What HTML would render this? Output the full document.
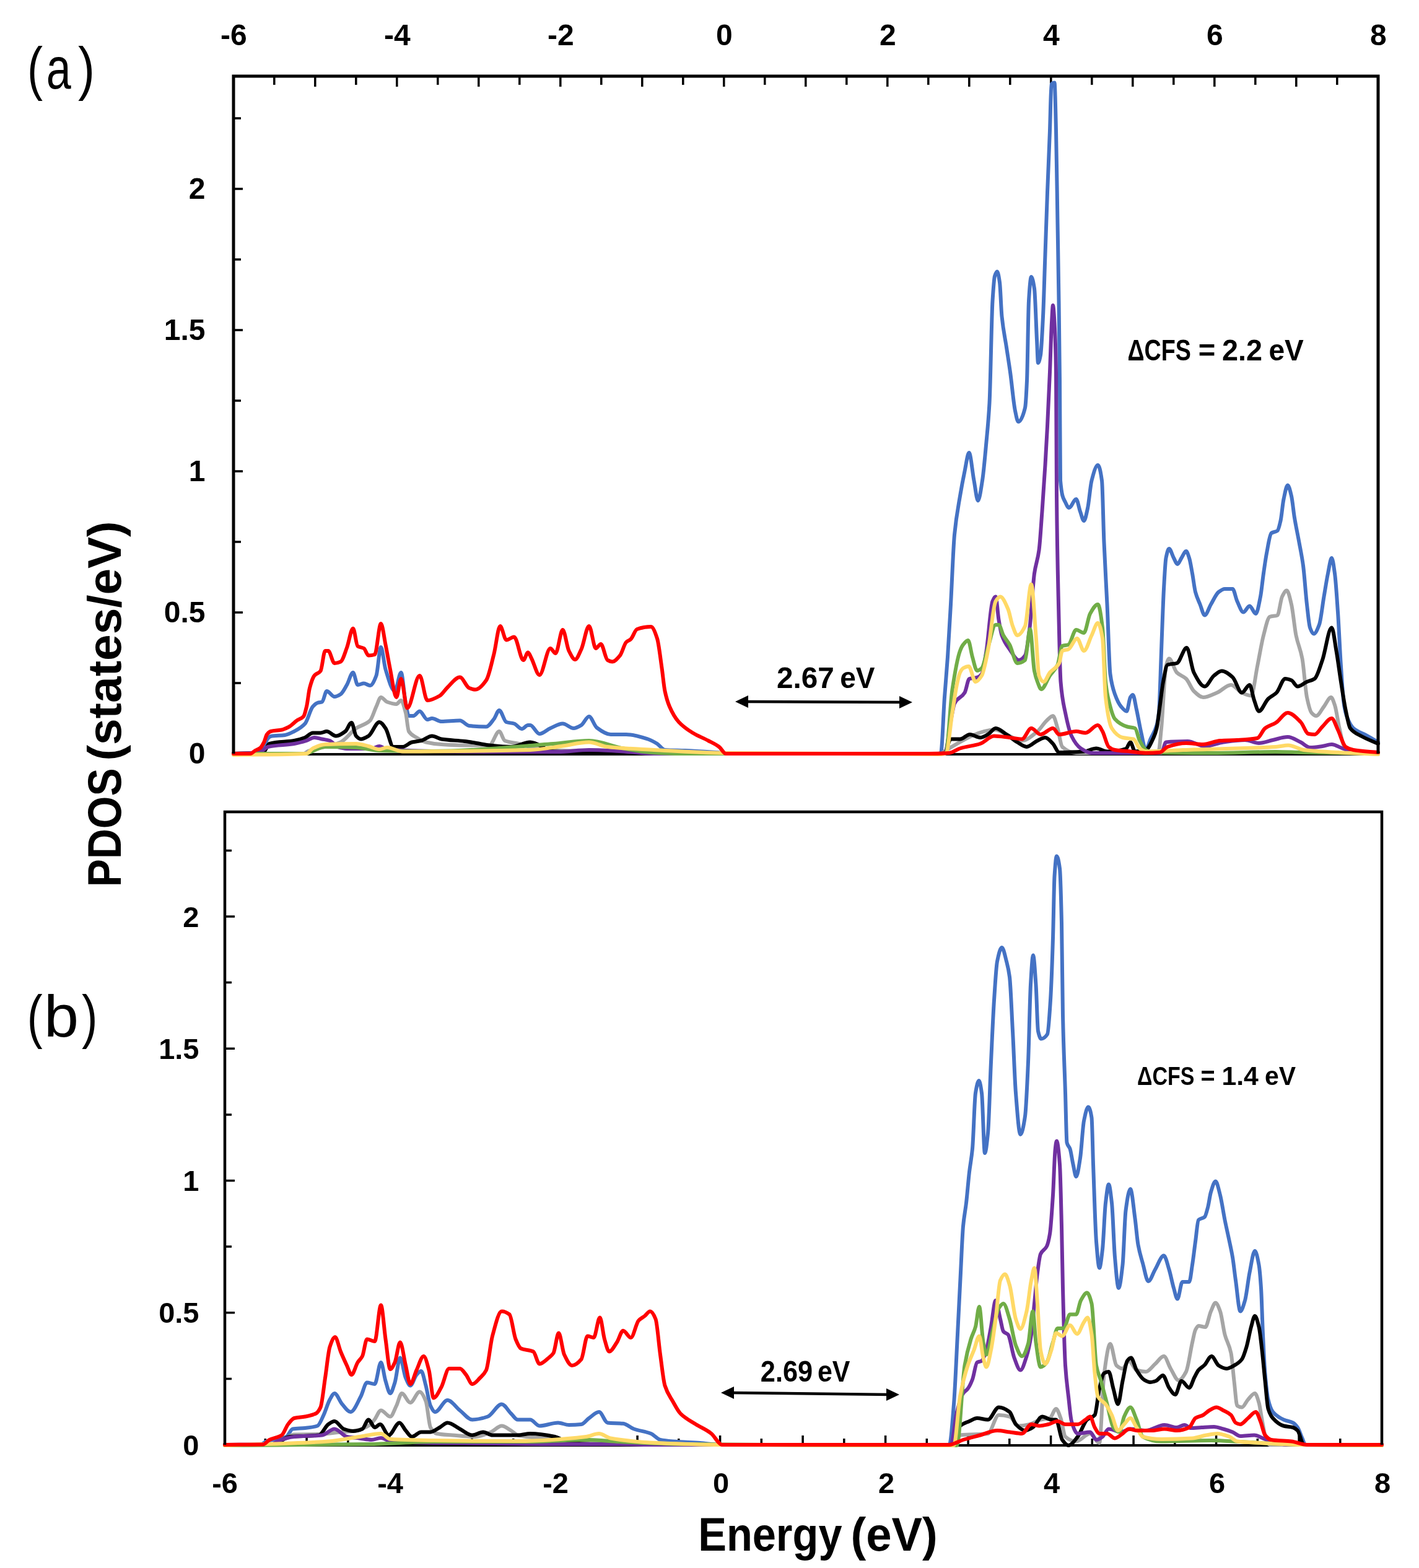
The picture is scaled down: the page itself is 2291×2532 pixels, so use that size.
<!DOCTYPE html>
<html><head><meta charset="utf-8"><title>PDOS</title>
<style>
html,body{margin:0;padding:0;background:#fff;}
svg{display:block;}
text{font-family:"Liberation Sans",Arial,sans-serif;fill:#000;}
.b{font-weight:bold;}
</style></head><body>
<svg width="2291" height="2532" viewBox="0 0 2291 2532">
<rect width="2291" height="2532" fill="#fff"/>
<path d="M442.8 123V137M508.8 123V140M574.8 123V137M640.8 123V140M706.8 123V137M772.8 123V140M838.8 123V137M904.8 123V140M970.8 123V137M1036.8 123V140M1102.8 123V137M1168.8 123V140M1234.8 123V137M1300.8 123V140M1366.8 123V137M1432.8 123V140M1498.8 123V137M1564.8 123V140M1630.8 123V137M1696.8 123V140M1762.8 123V137M1828.8 123V140M1894.8 123V137M1960.8 123V140M2026.8 123V137M2092.8 123V140M2158.8 123V137M377 1103H389M377 989H392M377 875H389M377 761H392M377 647H389M377 533H392M377 419H389M377 305H392M377 191H389" stroke="#000" stroke-width="3.5" fill="none"/>
<path d="M377 1218H2225" stroke="#000" stroke-width="4" fill="none"/>
<g fill="none" stroke-width="6" stroke-linejoin="round" stroke-linecap="round" transform="translate(0 1)">
<path stroke="#4472C4" d="M377 1216C389.7 1216 402.3 1216 415 1216C418.3 1216 421.7 1212.1 425 1208C427.3 1205.2 429.7 1194.7 432 1192C433.7 1190.1 435.3 1188.3 437 1188C444.7 1186.5 452.3 1187.1 460 1186C465 1185.3 470 1182.5 475 1180C480.8 1177 486.7 1174 492.5 1167.5C496.7 1162.9 500.8 1144.7 505 1140C507.5 1137.2 510 1134.8 512.5 1134C515 1133.2 517.5 1133.4 520 1132.5C522.5 1131.6 525 1115 527.5 1115C531.7 1115 535.8 1124 540 1124C543.3 1124 546.7 1122.1 550 1120C553.3 1117.9 556.7 1110.7 560 1105C563.3 1099.3 566.7 1085 570 1085C572.5 1085 575 1105 577.5 1105C580.8 1105 584.2 1102.5 587.5 1102.5C590.8 1102.5 594.2 1106 597.5 1106C600.8 1106 604.2 1098.7 607.5 1090C610 1083.5 612.5 1044 615 1044C617.5 1044 620 1071.8 622.5 1080C627.5 1096.3 632.5 1115 637.5 1115C640.8 1115 644.2 1085 647.5 1085C650 1085 652.5 1122.7 655 1135C656.7 1143.2 658.3 1155 660 1155C662.5 1155 665 1155 667.5 1155C670.8 1155 674.2 1147.5 677.5 1147.5C681.7 1147.5 685.8 1161 690 1161C692.5 1161 695 1159 697.5 1159C702.5 1159 707.5 1164 712.5 1164C722.5 1164 732.5 1162.5 742.5 1162.5C747.5 1162.5 752.5 1170.5 757.5 1171C766.7 1172 775.8 1172.5 785 1172.5C789.2 1172.5 793.3 1165.3 797.5 1160C800.3 1156.4 803.2 1146 806 1146C809.8 1146 813.7 1163.6 817.5 1165C821.7 1166.5 825.8 1166.2 830 1167.5C834.2 1168.8 838.3 1176 842.5 1176C845.8 1176 849.2 1170 852.5 1170C853.7 1170 854.8 1170 856 1170C861 1170 866 1184 871 1184C876.8 1184 882.7 1177.5 888.5 1175C895.2 1172.1 901.8 1167.5 908.5 1167.5C914.3 1167.5 920.2 1175 926 1175C930.2 1175 934.3 1172.5 938.5 1170C942.7 1167.5 946.8 1156 951 1156C955.2 1156 959.3 1170.8 963.5 1174C971 1179.7 978.5 1185 986 1185C994.3 1185 1002.7 1185 1011 1185C1022.7 1185 1034.3 1188.8 1046 1192.5C1051 1194.1 1056 1196.9 1061 1200C1065.2 1202.6 1069.3 1209.7 1073.5 1210C1084.3 1210.7 1095.2 1210.6 1106 1211C1122.7 1211.7 1139.3 1212.8 1156 1214C1164 1214.6 1172 1216 1180 1216C1291.7 1216 1403.3 1216 1515 1216C1516.3 1216 1517.7 1215.6 1519 1215C1521 1214.1 1523 1152.8 1525 1125C1526.7 1101.8 1528.3 1084.6 1530 1060C1531.7 1035.4 1533.3 1004.7 1535 975C1537 939.4 1539 883.4 1541 862.5C1544 831.1 1547 818 1550 800C1552.5 785 1555 771.9 1557.5 760C1559.8 748.9 1562.2 730 1564.5 730C1567.2 730 1569.8 760.9 1572.5 775C1574.7 786.4 1576.8 807.5 1579 807.5C1581.3 807.5 1583.7 789.7 1586 775C1588.2 761.4 1590.3 736.2 1592.5 712.5C1594.2 694.3 1595.8 680.2 1597.5 650C1599.2 619.8 1600.8 512.5 1602.5 485C1603.7 465.7 1604.8 448.8 1606 445C1607.3 440.6 1608.7 437.5 1610 437.5C1611.3 437.5 1612.7 445.8 1614 455C1615.2 463.1 1616.3 498.5 1617.5 510C1620 534.6 1622.5 543.3 1625 560C1627 573.3 1629 585.7 1631 600C1633.7 619.1 1636.3 650 1639 662.5C1640.7 670.3 1642.3 680 1644 680C1647.7 680 1651.3 672.8 1655 657.5C1656 653.3 1657 635.7 1658 614C1659 592.3 1660 501.4 1661 485C1662.3 463.1 1663.7 446 1665 446C1666.7 446 1668.3 454 1670 465C1671.3 473.8 1672.7 521.4 1674 547.5C1674.7 560.5 1675.3 585 1676 585C1677.3 585 1678.7 579.4 1680 572.5C1681.3 565.6 1682.7 537.1 1684 510C1685.2 486.3 1686.3 443.3 1687.5 410C1688.7 376.7 1689.8 341.2 1691 310C1692.3 274.4 1693.7 246.6 1695 210C1695.8 187.1 1696.7 135.9 1697.5 135C1699.2 133.2 1700.8 132.5 1702.5 132.5C1703.3 132.5 1704.2 175.9 1705 210C1705.8 244.1 1706.7 308.9 1707.5 360C1708.2 400.8 1708.8 436.4 1709.5 485C1710 521.5 1710.5 556.8 1711 614C1711.3 652.1 1711.7 771.2 1712 775C1714.7 805.1 1717.3 804.2 1720 810C1722 814.4 1724 819 1726 819C1729.8 819 1733.7 805 1737.5 805C1739.7 805 1741.8 819 1744 825C1746 830.5 1748 840 1750 840C1752 840 1754 829 1756 820C1758.2 810.3 1760.3 783.2 1762.5 775C1765.8 762.3 1769.2 750 1772.5 750C1774.7 750 1776.8 759.1 1779 775C1780.2 783.6 1781.3 847.3 1782.5 875C1784.2 914.6 1785.8 939.7 1787.5 975C1789.2 1010.3 1790.8 1074.8 1792.5 1087.5C1795 1106.5 1797.5 1113 1800 1120C1803.3 1129.3 1806.7 1136.1 1810 1140C1813 1143.5 1816 1147.5 1819 1147.5C1821 1147.5 1823 1128 1825 1125C1826.3 1123 1827.7 1121 1829 1121C1831 1121 1833 1136.1 1835 1145C1837.5 1156.1 1840 1171.9 1842.5 1182.5C1845 1193.1 1847.5 1210 1850 1210C1852.5 1210 1855 1198.2 1857.5 1192.5C1860.8 1184.9 1864.2 1181.6 1867.5 1170C1868.7 1166 1869.8 1160.7 1871 1150C1872.3 1137.8 1873.7 1083.3 1875 1050C1876.3 1016.7 1877.7 974.1 1879 950C1880.2 928.9 1881.3 906 1882.5 900C1884.2 891.4 1885.8 885 1887.5 885C1890 885 1892.5 895.5 1895 900C1897 903.6 1899 910 1901 910C1903.2 910 1905.3 903.3 1907.5 900C1910 896.2 1912.5 889 1915 889C1916.7 889 1918.3 894.9 1920 900C1921.7 905.1 1923.3 915.9 1925 925C1926.7 934.1 1928.3 948.7 1930 955C1932.5 964.5 1935 968.8 1937.5 975C1940 981.2 1942.5 992.5 1945 992.5C1948.3 992.5 1951.7 980.6 1955 975C1959.2 968 1963.3 958.1 1967.5 955C1970.8 952.5 1974.2 950 1977.5 950C1981.7 950 1985.8 950 1990 950C1992.5 950 1995 964.7 1997.5 970C2000.8 977.1 2004.2 987.5 2007.5 987.5C2010.8 987.5 2014.2 977.5 2017.5 977.5C2020.8 977.5 2024.2 990 2027.5 990C2030 990 2032.5 975.1 2035 962.5C2036.7 954.1 2038.3 936.6 2040 925C2041.7 913.4 2043.3 901.3 2045 892.5C2047.5 879.3 2050 861.9 2052.5 860C2055.8 857.5 2059.2 858.6 2062.5 856C2064.2 854.7 2065.8 847.3 2067.5 840C2069.2 832.7 2070.8 812.8 2072.5 805C2074.7 794.8 2076.8 782.5 2079 782.5C2081 782.5 2083 791.7 2085 800C2086.7 806.9 2088.3 824.8 2090 835C2092.5 850.3 2095 861.1 2097.5 875C2099.7 887 2101.8 896.3 2104 912.5C2106 927.4 2108 957.6 2110 975C2111.7 989.5 2113.3 1007.9 2115 1012.5C2117 1018.1 2119 1022.5 2121 1022.5C2124 1022.5 2127 1015.5 2130 1007.5C2132.5 1000.9 2135 977.2 2137.5 962.5C2139.7 949.8 2141.8 935.5 2144 925C2146 915.3 2148 900 2150 900C2151.7 900 2153.3 913.1 2155 925C2156.7 936.9 2158.3 963.2 2160 987.5C2161.7 1011.8 2163.3 1050.7 2165 1075C2166.7 1099.3 2168.3 1127.4 2170 1137.5C2171.7 1147.6 2173.3 1153.3 2175 1157.5C2178.3 1166 2181.7 1172 2185 1175C2191.7 1180.9 2198.3 1182.3 2205 1186C2211.7 1189.7 2218.3 1193.7 2225 1197.5"/>
<path stroke="#A5A5A5" d="M377 1216C414.7 1216 452.3 1216 490 1216C492.5 1216 495 1213 497.5 1212C515 1205.1 532.5 1205.4 550 1197.5C558.3 1193.7 566.7 1180.7 575 1175C582.5 1169.9 590 1169.7 597.5 1162.5C600.8 1159.3 604.2 1147 607.5 1140C610 1134.7 612.5 1125 615 1125C618.3 1125 621.7 1131.3 625 1132.5C630 1134.3 635 1136 640 1136C642.5 1136 645 1130 647.5 1130C650 1130 652.5 1140.5 655 1150C656.7 1156.3 658.3 1177.4 660 1180C664.2 1186.6 668.3 1187.4 672.5 1190C677.5 1193.1 682.5 1196.4 687.5 1197.5C695.8 1199.4 704.2 1200.5 712.5 1201C725 1201.8 737.5 1202.5 750 1202.5C763.3 1202.5 776.7 1202.5 790 1202.5C795.3 1202.5 800.7 1180 806 1180C809 1180 812 1193.7 815 1195C822.5 1198.3 830 1198.2 837.5 1200C843.7 1201.5 849.8 1203.5 856 1205C864 1206.9 872 1209.5 880 1210C903.3 1211.3 926.7 1211.4 950 1212C983.3 1212.8 1016.7 1213.3 1050 1214C1083.3 1214.7 1116.7 1216 1150 1216C1273.3 1216 1396.7 1216 1520 1216C1521.7 1216 1523.3 1213 1525 1212C1552.5 1195.4 1580 1177.5 1607.5 1177.5C1613.3 1177.5 1619.2 1182.6 1625 1185C1633.3 1188.5 1641.7 1195 1650 1195C1658.3 1195 1666.7 1186.8 1675 1180C1680 1175.9 1685 1167 1690 1162.5C1693.3 1159.5 1696.7 1155 1700 1155C1702.5 1155 1705 1167 1707.5 1175C1710 1183 1712.5 1202.7 1715 1205C1722.5 1211.9 1730 1215 1737.5 1215C1781.7 1215 1825.8 1215 1870 1215C1871.7 1215 1873.3 1191.4 1875 1175C1877.5 1150.4 1880 1085.1 1882.5 1075C1884.2 1068.3 1885.8 1062.5 1887.5 1062.5C1891.7 1062.5 1895.8 1080.9 1900 1085C1905 1089.9 1910 1090.2 1915 1095C1919.2 1099 1923.3 1111 1927.5 1115C1932.5 1119.8 1937.5 1125 1942.5 1125C1950 1125 1957.5 1120.6 1965 1117.5C1972.5 1114.4 1980 1105 1987.5 1105C1993.3 1105 1999.2 1114.9 2005 1117.5C2010 1119.8 2015 1122.5 2020 1122.5C2023.3 1122.5 2026.7 1091.2 2030 1075C2033.3 1058.8 2036.7 1037.5 2040 1025C2043.3 1012.5 2046.7 996.3 2050 995C2054.2 993.4 2058.3 994.2 2062.5 992.5C2065 991.5 2067.5 967.5 2070 962.5C2072.5 957.5 2075 952.5 2077.5 952.5C2080 952.5 2082.5 964.7 2085 975C2087.5 985.3 2090 1012.8 2092.5 1025C2095.8 1041.2 2099.2 1044.9 2102.5 1062.5C2105 1075.7 2107.5 1113.1 2110 1125C2112.5 1136.9 2115 1147.2 2117.5 1150C2120 1152.8 2122.5 1155 2125 1155C2129.2 1155 2133.3 1145.2 2137.5 1140C2141.3 1135.2 2145.2 1125 2149 1125C2151 1125 2153 1131.7 2155 1137.5C2157.5 1144.7 2160 1164.1 2162.5 1175C2165 1185.9 2167.5 1199.9 2170 1204C2173.3 1209.4 2176.7 1213.6 2180 1214C2195 1215.6 2210 1215.3 2225 1216"/>
<path stroke="#000000" d="M377 1216C393 1215.3 409 1215.6 425 1214C428.3 1213.7 431.7 1200.9 435 1200C448.3 1196.3 461.7 1197.4 475 1195C480.8 1193.9 486.7 1192.3 492.5 1190C496.7 1188.4 500.8 1182.5 505 1182.5C509.2 1182.5 513.3 1182.5 517.5 1182.5C520.8 1182.5 524.2 1180 527.5 1180C532.5 1180 537.5 1187.5 542.5 1187.5C547.5 1187.5 552.5 1183.8 557.5 1180C560.8 1177.5 564.2 1166 567.5 1166C570 1166 572.5 1184.8 575 1187.5C577.5 1190.2 580 1192.5 582.5 1192.5C586.7 1192.5 590.8 1190 595 1187.5C600.8 1184 606.7 1165 612.5 1165C615.8 1165 619.2 1170.4 622.5 1175C626.7 1180.8 630.8 1205 635 1205C640 1205 645 1205 650 1205C655 1205 660 1198.8 665 1197.5C670 1196.2 675 1196.2 680 1195C685.8 1193.6 691.7 1187.5 697.5 1187.5C702.5 1187.5 707.5 1191.7 712.5 1192.5C725 1194.5 737.5 1194.5 750 1196C758.3 1197 766.7 1198.6 775 1200C780 1200.8 785 1202 790 1202.5C801.7 1203.7 813.3 1205 825 1205C835.3 1205 845.7 1197.5 856 1197.5C862.7 1197.5 869.3 1201.6 876 1205C879.3 1206.7 882.7 1211.7 886 1212C907.3 1213.6 928.7 1213.6 950 1214C1000 1215 1050 1216 1100 1216C1240 1216 1380 1216 1520 1216C1521.7 1216 1523.3 1215.6 1525 1215C1528.3 1213.9 1531.7 1192.5 1535 1192.5C1540 1192.5 1545 1192.5 1550 1192.5C1555.3 1192.5 1560.7 1185 1566 1185C1571.5 1185 1577 1190 1582.5 1190C1586.7 1190 1590.8 1187.2 1595 1185C1599.2 1182.8 1603.3 1175 1607.5 1175C1613.3 1175 1619.2 1181.3 1625 1185C1630.8 1188.7 1636.7 1194.1 1642.5 1197.5C1647.5 1200.4 1652.5 1205 1657.5 1205C1663.3 1205 1669.2 1197.7 1675 1195C1679.2 1193.1 1683.3 1190 1687.5 1190C1691.7 1190 1695.8 1195.7 1700 1200C1703.3 1203.4 1706.7 1214 1710 1214C1723.3 1214 1736.7 1213.4 1750 1212.5C1756.7 1212 1763.3 1207.5 1770 1207.5C1775.8 1207.5 1781.7 1212.5 1787.5 1212.5C1797.7 1212.5 1807.8 1211.3 1818 1208C1820.3 1207.2 1822.7 1197.5 1825 1197.5C1827.5 1197.5 1830 1212.5 1832.5 1212.5C1838.3 1212.5 1844.2 1211.6 1850 1210C1854.2 1208.9 1858.3 1199.1 1862.5 1190C1864.2 1186.4 1865.8 1182 1867.5 1175C1869.2 1168 1870.8 1151.9 1872.5 1140C1874.3 1126.9 1876.2 1109.5 1878 1100C1880.3 1088 1882.7 1073.3 1885 1072.5C1890 1070.7 1895 1071.5 1900 1070C1905.3 1068.4 1910.7 1045 1916 1045C1919.8 1045 1923.7 1077.6 1927.5 1085C1933.3 1096.3 1939.2 1107.5 1945 1107.5C1950 1107.5 1955 1093.9 1960 1090C1964.2 1086.7 1968.3 1082.5 1972.5 1082.5C1978.3 1082.5 1984.2 1087.5 1990 1092.5C1995 1096.8 2000 1117.5 2005 1117.5C2009.2 1117.5 2013.3 1105 2017.5 1105C2020 1105 2022.5 1123.1 2025 1130C2027.5 1136.9 2030 1147.5 2032.5 1147.5C2037.5 1147.5 2042.5 1132.2 2047.5 1127.5C2052 1123.2 2056.5 1122.1 2061 1117.5C2065.7 1112.8 2070.3 1095 2075 1095C2078.3 1095 2081.7 1096.2 2085 1097.5C2088.3 1098.8 2091.7 1107.5 2095 1107.5C2100 1107.5 2105 1102.2 2110 1100C2114.2 1098.2 2118.3 1097.9 2122.5 1095C2126.7 1092.1 2130.8 1076.8 2135 1065C2140 1050.8 2145 1012.5 2150 1012.5C2152.5 1012.5 2155 1035.7 2157.5 1050C2160 1064.3 2162.5 1084.2 2165 1100C2167.5 1115.8 2170 1133 2172.5 1145C2175 1157 2177.5 1171.7 2180 1175C2185.8 1182.8 2191.7 1184.2 2197.5 1187.5C2206.7 1192.7 2215.8 1195.8 2225 1200"/>
<path stroke="#7030A0" d="M377 1216C391.3 1215.3 405.7 1215.6 420 1214C421.7 1213.8 423.3 1211.2 425 1210C427.5 1208.2 430 1205.6 432.5 1205C446.7 1201.6 460.8 1202.4 475 1200C481.7 1198.9 488.3 1197.1 495 1195C499.2 1193.7 503.3 1190 507.5 1190C511.7 1190 515.8 1191.7 520 1192.5C524.2 1193.3 528.3 1193.7 532.5 1195C536.7 1196.3 540.8 1203.6 545 1205C550 1206.6 555 1208 560 1208C573.3 1208 586.7 1208 600 1208C604.2 1208 608.3 1204 612.5 1204C616.7 1204 620.8 1208.6 625 1209C650 1211.3 675 1211.6 700 1212C733.3 1212.5 766.7 1213 800 1213C833.3 1213 866.7 1213 900 1213C917 1213 934 1210 951 1210C967.3 1210 983.7 1211.2 1000 1212C1018.7 1213 1037.3 1216 1056 1216C1210.7 1216 1365.3 1216 1520 1216C1521.7 1216 1523.3 1215.6 1525 1215C1529.2 1213.6 1533.3 1169.2 1537.5 1150C1538.7 1144.6 1539.8 1137.3 1541 1135C1546.5 1124.2 1552 1126.7 1557.5 1117.5C1560 1113.3 1562.5 1095.8 1565 1095C1569.2 1093.6 1573.3 1094.2 1577.5 1093C1580 1092.3 1582.5 1090.7 1585 1087.5C1587.5 1084.3 1590 1065.2 1592.5 1050C1595.8 1029.7 1599.2 977.8 1602.5 970C1604.2 966.1 1605.8 962.5 1607.5 962.5C1609.2 962.5 1610.8 990 1612.5 1000C1614.2 1010 1615.8 1020.3 1617.5 1025C1621.7 1036.8 1625.8 1041.6 1630 1047.5C1635 1054.6 1640 1065 1645 1065C1648.3 1065 1651.7 1062.1 1655 1057.5C1657.5 1054 1660 1032.3 1662.5 1012.5C1665 992.7 1667.5 942.5 1670 925C1672.5 907.5 1675 905.9 1677.5 887.5C1679.2 875.2 1680.8 847.7 1682.5 825C1684.2 802.3 1685.8 777.3 1687.5 750C1688.7 730.9 1689.8 710.4 1691 687.5C1692.3 661.3 1693.7 632.2 1695 600C1696 575.9 1697 538 1698 520C1698.7 508 1699.3 492 1700 492C1700.8 492 1701.7 506.2 1702.5 520C1703.3 533.8 1704.2 548.7 1705 600C1705.3 620.5 1705.7 766.9 1706 800C1707 899.4 1708 930.4 1709 975C1710.2 1027 1711.3 1085.7 1712.5 1100C1715 1130.6 1717.5 1137.8 1720 1150C1723.3 1166.2 1726.7 1180.7 1730 1187.5C1735 1197.7 1740 1204.2 1745 1207.5C1750.8 1211.3 1756.7 1215 1762.5 1215C1800 1215 1837.5 1215 1875 1215C1877.5 1215 1880 1197.8 1882.5 1197.5C1894.2 1196.3 1905.8 1196 1917.5 1196C1926.7 1196 1935.8 1204 1945 1204C1955 1204 1965 1198.9 1975 1197.5C1986.7 1195.9 1998.3 1194 2010 1194C2017.5 1194 2025 1199 2032.5 1199C2040 1199 2047.5 1195.6 2055 1194C2063 1192.3 2071 1189 2079 1189C2086 1189 2093 1194.2 2100 1197.5C2105 1199.9 2110 1206 2115 1206C2121.7 1206 2128.3 1204.9 2135 1204C2140 1203.3 2145 1201 2150 1201C2155.8 1201 2161.7 1205.6 2167.5 1207.5C2173.3 1209.4 2179.2 1211.8 2185 1212.5C2198.3 1214 2211.7 1214.2 2225 1215"/>
<path stroke="#70AD47" d="M377 1216C416.3 1216 455.7 1216 495 1216C496.7 1216 498.3 1214.6 500 1214C508.3 1210.8 516.7 1205 525 1205C541.7 1205 558.3 1205.4 575 1206C587.5 1206.5 600 1210.7 612.5 1211C641.7 1211.7 670.8 1212 700 1212C764.5 1212 829 1204.8 893.5 1200C912.7 1198.6 931.8 1195 951 1195C969.3 1195 987.7 1204.2 1006 1207.5C1020.7 1210.1 1035.3 1213.1 1050 1214C1066.7 1215.1 1083.3 1216 1100 1216C1240 1216 1380 1216 1520 1216C1522.3 1216 1524.7 1215.6 1527 1215C1530.5 1214.1 1534 1135.9 1537.5 1112.5C1541.7 1084.7 1545.8 1061.2 1550 1050C1551.7 1045.5 1553.3 1042.1 1555 1040C1557.7 1036.7 1560.3 1033 1563 1033C1565.3 1033 1567.7 1052.2 1570 1060C1572.5 1068.3 1575 1082 1577.5 1082C1580 1082 1582.5 1080.2 1585 1078C1588.3 1075 1591.7 1055.4 1595 1045C1599.2 1032 1603.3 1008 1607.5 1008C1609.2 1008 1610.8 1008 1612.5 1008C1615 1008 1617.5 1020.4 1620 1025C1623.3 1031.1 1626.7 1033.9 1630 1040C1634.2 1047.6 1638.3 1070 1642.5 1070C1646.7 1070 1650.8 1068.3 1655 1065C1657.7 1062.9 1660.3 1015 1663 1015C1665.3 1015 1667.7 1070.8 1670 1082.5C1671.7 1090.8 1673.3 1095.7 1675 1100C1677 1105.1 1679 1112 1681 1112C1685.7 1112 1690.3 1096.9 1695 1090C1699.2 1083.8 1703.3 1081.5 1707.5 1072.5C1710 1067.1 1712.5 1043 1715 1042C1718.3 1040.7 1721.7 1041.2 1725 1040C1729.2 1038.5 1733.3 1016 1737.5 1016C1741.7 1016 1745.8 1021 1750 1021C1753.3 1021 1756.7 995.9 1760 990C1764.2 982.7 1768.3 975 1772.5 975C1775 975 1777.5 992.3 1780 1012.5C1781.7 1026 1783.3 1085.1 1785 1100C1786.7 1114.9 1788.3 1123.1 1790 1130C1793.3 1143.8 1796.7 1156.3 1800 1160C1806.7 1167.4 1813.3 1170.6 1820 1172.5C1824.2 1173.7 1828.3 1173.3 1832.5 1175C1835 1176 1837.5 1190.1 1840 1195C1843.3 1201.5 1846.7 1207.9 1850 1210C1853.3 1212.1 1856.7 1213.9 1860 1214C1892 1214.9 1924 1215 1956 1215C1990.7 1215 2025.3 1213 2060 1213C2073.3 1213 2086.7 1213.7 2100 1214C2141.7 1214.8 2183.3 1215.3 2225 1216"/>
<path stroke="#FFD966" d="M377 1218C416.3 1217.3 455.7 1217.8 495 1216C498.3 1215.8 501.7 1209.1 505 1207.5C511.7 1204.2 518.3 1201.3 525 1201C541.7 1200.3 558.3 1200 575 1200C581.7 1200 588.3 1202.4 595 1204C600.8 1205.4 606.7 1209 612.5 1209C616.7 1209 620.8 1206 625 1206C633.3 1206 641.7 1212.5 650 1212.5C718.7 1212.5 787.3 1211.8 856 1210C872.7 1209.6 889.3 1206.2 906 1204C921 1202 936 1197.5 951 1197.5C961 1197.5 971 1203.9 981 1205C1006 1207.9 1031 1208.6 1056 1210C1092.7 1212 1129.3 1214.6 1166 1215C1284 1216.4 1402 1217 1520 1217C1522.5 1217 1525 1216.2 1527.5 1215C1530.8 1213.4 1534.2 1171 1537.5 1150C1540 1134.2 1542.5 1115.6 1545 1104C1546.7 1096.3 1548.3 1088.4 1550 1085C1551.7 1081.6 1553.3 1079 1555 1078C1558 1076.3 1561 1075 1564 1075C1567.7 1075 1571.3 1100 1575 1100C1578.3 1100 1581.7 1095.3 1585 1090C1588.3 1084.7 1591.7 1066.3 1595 1050C1599.2 1029.7 1603.3 976.8 1607.5 970C1610 965.9 1612.5 962.5 1615 962.5C1619.2 962.5 1623.3 972.9 1627.5 982.5C1630 988.3 1632.5 1003.5 1635 1010C1637.5 1016.5 1640 1025 1642.5 1025C1646.7 1025 1650.8 1018.7 1655 1010C1658.3 1003 1661.7 942.5 1665 942.5C1667.5 942.5 1670 995 1672.5 1025C1674.2 1045 1675.8 1085.7 1677.5 1090C1680 1096.4 1682.5 1100 1685 1100C1688.3 1100 1691.7 1089.1 1695 1085C1700 1078.9 1705 1078.9 1710 1070C1711.7 1067 1713.3 1050.9 1715 1050C1718.3 1048.3 1721.7 1048.8 1725 1047.5C1729.7 1045.6 1734.3 1030 1739 1030C1742.7 1030 1746.3 1050 1750 1050C1754.2 1050 1758.3 1033.3 1762.5 1025C1765.8 1018.3 1769.2 1005 1772.5 1005C1775 1005 1777.5 1015.1 1780 1030C1781.7 1039.9 1783.3 1110.9 1785 1125C1788.3 1153.2 1791.7 1169.8 1795 1175C1800.8 1184.1 1806.7 1188.6 1812.5 1190C1818.3 1191.4 1824.2 1190.9 1830 1192.5C1833.3 1193.4 1836.7 1205 1840 1207.5C1843.3 1210 1846.7 1212.5 1850 1212.5C1870 1212.5 1890 1210.8 1910 1210C1960 1208.1 2010 1208.1 2060 1205C2066.7 1204.6 2073.3 1202.5 2080 1202.5C2088.3 1202.5 2096.7 1209 2105 1210C2145 1214.6 2185 1214.7 2225 1217"/>
<path stroke="#FF0000" d="M377 1216C386 1216 395 1216 404 1216C406.7 1216 409.3 1212.5 412 1211C414.7 1209.5 417.3 1209 420 1207C422 1205.5 424 1201.8 426 1198C427.7 1194.8 429.3 1187.1 431 1185C433 1182.4 435 1180.5 437 1180C443 1178.4 449 1178.8 455 1177.5C458.7 1176.7 462.3 1174.9 466 1173C470.7 1170.5 475.3 1165.2 480 1162C483.3 1159.7 486.7 1159.6 490 1156C491.7 1154.2 493.3 1147 495 1140C496.7 1133 498.3 1116.3 500 1110C502.5 1100.5 505 1093 507.5 1090C510.8 1086 514.2 1086.9 517.5 1082.5C520 1079.2 522.5 1050 525 1050C526.7 1050 528.3 1050 530 1050C533.3 1050 536.7 1070 540 1070C543.3 1070 546.7 1069 550 1067.5C553.3 1066 556.7 1053.7 560 1045C563.3 1036.3 566.7 1013.8 570 1013.8C572.5 1013.8 575 1040.8 577.5 1042.5C580.8 1044.7 584.2 1044 587.5 1046C590 1047.5 592.5 1057.5 595 1057.5C598.3 1057.5 601.7 1057 605 1056C608.3 1055 611.7 1006 615 1006C617.5 1006 620 1027.7 622.5 1040C625 1052.3 627.5 1067.7 630 1080C633.3 1096.3 636.7 1125 640 1125C642.5 1125 645 1095 647.5 1095C650.8 1095 654.2 1142.5 657.5 1142.5C664.2 1142.5 670.8 1090 677.5 1090C681.7 1090 685.8 1130 690 1130C696.7 1130 703.3 1126.4 710 1122.5C714.2 1120.1 718.3 1112.9 722.5 1109C729.2 1102.7 735.8 1092.5 742.5 1092.5C747.5 1092.5 752.5 1108 757.5 1110C760.8 1111.3 764.2 1112.5 767.5 1112.5C773.3 1112.5 779.2 1105.8 785 1097.5C789.2 1091.6 793.3 1071.2 797.5 1055C800.8 1042 804.2 1010 807.5 1010C810.8 1010 814.2 1032.5 817.5 1032.5C821.7 1032.5 825.8 1027.5 830 1027.5C835 1027.5 840 1065 845 1065C847.5 1065 850 1052.5 852.5 1052.5C854.3 1052.5 856.2 1058.6 858 1062C862.3 1070.1 866.7 1089 871 1089C876.8 1089 882.7 1046 888.5 1046C891.3 1046 894.2 1054 897 1054C900.8 1054 904.7 1016 908.5 1016C911.8 1016 915.2 1043.4 918.5 1050C921.8 1056.6 925.2 1064 928.5 1064C931.8 1064 935.2 1054.5 938.5 1047.5C942.7 1038.7 946.8 1010 951 1010C954.7 1010 958.3 1046 962 1046C964.7 1046 967.3 1039 970 1039C973.7 1039 977.3 1063 981 1065C983.5 1066.4 986 1067.5 988.5 1067.5C992.7 1067.5 996.8 1062.4 1001 1057.5C1004.3 1053.5 1007.7 1039.3 1011 1036C1013.5 1033.5 1016 1033.3 1018.5 1031C1021.8 1027.9 1025.2 1016.2 1028.5 1015C1036 1012.3 1043.5 1011 1051 1011C1054.3 1011 1057.7 1020 1061 1030C1063.5 1037.5 1066 1060.2 1068.5 1077.5C1070.2 1089 1071.8 1107.1 1073.5 1115C1076 1126.8 1078.5 1134.2 1081 1140C1086 1151.5 1091 1159.6 1096 1165C1103.5 1173.2 1111 1177.9 1118.5 1182.5C1126.8 1187.6 1135.2 1190.5 1143.5 1195C1149.3 1198.1 1155.2 1200.7 1161 1205C1164.7 1207.7 1168.3 1216 1172 1216C1281.3 1216 1390.7 1216 1500 1216C1510.8 1216 1521.7 1215.7 1532.5 1215C1538.3 1214.6 1544.2 1209.3 1550 1207.5C1560.8 1204.1 1571.7 1203.6 1582.5 1200C1590 1197.5 1597.5 1187.5 1605 1187.5C1613.3 1187.5 1621.7 1189.1 1630 1190C1636.7 1190.7 1643.3 1192.5 1650 1192.5C1655 1192.5 1660 1175 1665 1175C1670 1175 1675 1185 1680 1185C1686.7 1185 1693.3 1175 1700 1175C1703.3 1175 1706.7 1185 1710 1185C1719.2 1185 1728.3 1180 1737.5 1180C1742.5 1180 1747.5 1182.5 1752.5 1182.5C1759.2 1182.5 1765.8 1170 1772.5 1170C1775 1170 1777.5 1175.7 1780 1180C1783.3 1185.7 1786.7 1202.2 1790 1205C1793.3 1207.8 1796.7 1209.4 1800 1210C1808.3 1211.5 1816.7 1211.7 1825 1212.5C1833.3 1213.3 1841.7 1215 1850 1215C1857.5 1215 1865 1214.7 1872.5 1214C1876.7 1213.6 1880.8 1206.4 1885 1205C1895 1201.6 1905 1199 1915 1199C1924.2 1199 1933.3 1201 1942.5 1201C1951.7 1201 1960.8 1195.6 1970 1195C1979.2 1194.4 1988.3 1194.5 1997.5 1194C2008.3 1193.4 2019.2 1193.1 2030 1191C2034.2 1190.2 2038.3 1178.1 2042.5 1175C2048.3 1170.6 2054.2 1169.7 2060 1166C2066.3 1162 2072.7 1150 2079 1150C2086 1150 2093 1158 2100 1165C2104.2 1169.2 2108.3 1183.2 2112.5 1184C2115.8 1184.6 2119.2 1185 2122.5 1185C2126.7 1185 2130.8 1176.5 2135 1172.5C2140 1167.8 2145 1159 2150 1159C2153.3 1159 2156.7 1170.8 2160 1177.5C2164.2 1185.8 2168.3 1202.2 2172.5 1205C2176.7 1207.8 2180.8 1209.3 2185 1210C2198.3 1212.4 2211.7 1212.7 2225 1214"/>
</g>
<path d="M377 1217V123H2225V1217" stroke="#000" stroke-width="5" fill="none" stroke-linejoin="miter"/>
<path d="M428.3 2333V2323M495.1 2333V2318M561.8 2333V2323M628.6 2333V2318M695.3 2333V2323M762.1 2333V2318M828.8 2333V2323M895.6 2333V2318M962.3 2333V2323M1029.1 2333V2318M1095.8 2333V2323M1162.6 2333V2318M1229.3 2333V2323M1296.1 2333V2318M1362.8 2333V2323M1429.6 2333V2318M1496.3 2333V2323M1563.1 2333V2318M1629.8 2333V2323M1696.6 2333V2318M1763.3 2333V2323M1830.1 2333V2318M1896.8 2333V2323M1963.6 2333V2318M2030.3 2333V2323M2097.1 2333V2318M2163.8 2333V2323M363 2226.4H374M363 2119.8H379M363 2013.1H374M363 1906.5H379M363 1799.9H374M363 1693.2H379M363 1586.6H374M363 1480H379M363 1373.4H374" stroke="#000" stroke-width="3.5" fill="none"/>
<path d="M363 2334H2231" stroke="#000" stroke-width="4" fill="none"/>
<g fill="none" stroke-width="6" stroke-linejoin="round" stroke-linecap="round">
<path stroke="#4472C4" d="M363 2333C382 2333 401 2333 420 2333C423.3 2333 426.7 2328.7 430 2327.5C440.8 2323.7 451.7 2324.8 462.5 2320C465.8 2318.5 469.2 2308 472.5 2307.5C479.2 2306.5 485.8 2306.7 492.5 2306C499.2 2305.3 505.8 2304.8 512.5 2302.5C515.8 2301.3 519.2 2291.9 522.5 2285C525.8 2278.1 529.2 2265.7 532.5 2260C535 2255.7 537.5 2250 540 2250C544.2 2250 548.3 2262.8 552.5 2267.5C557 2272.5 561.5 2280 566 2280C571.5 2280 577 2265.1 582.5 2255C585.8 2248.9 589.2 2232.5 592.5 2232.5C596.7 2232.5 600.8 2235 605 2235C608.3 2235 611.7 2200 615 2200C617.5 2200 620 2222 622.5 2230C625 2238 627.5 2250 630 2250C632.5 2250 635 2240.2 637.5 2232.5C640.3 2223.7 643.2 2192.5 646 2192.5C649 2192.5 652 2218.2 655 2225C657.5 2230.6 660 2237.5 662.5 2237.5C665.8 2237.5 669.2 2223.6 672.5 2220C675 2217.3 677.5 2214 680 2214C682.5 2214 685 2228.4 687.5 2237.5C690 2246.6 692.5 2264.9 695 2270C697.5 2275.1 700 2280 702.5 2280C709.2 2280 715.8 2261 722.5 2261C729.2 2261 735.8 2272.3 742.5 2277.5C749.2 2282.7 755.8 2292.5 762.5 2292.5C770.8 2292.5 779.2 2290.3 787.5 2287.5C795 2285 802.5 2267.5 810 2267.5C815 2267.5 820 2277.7 825 2282.5C828.7 2286 832.3 2292.5 836 2292.5C842.7 2292.5 849.3 2292.5 856 2292.5C861 2292.5 866 2302.5 871 2302.5C881 2302.5 891 2297.5 901 2297.5C906.8 2297.5 912.7 2301 918.5 2301C925.2 2301 931.8 2300.7 938.5 2300C942.7 2299.6 946.8 2292.9 951 2290C956.4 2286.2 961.8 2280 967.2 2280C971.8 2280 976.4 2297 981 2297.5C989.3 2298.4 997.7 2298 1006 2298.8C1011.8 2299.3 1017.7 2305.4 1023.5 2307.5C1032.7 2310.8 1041.8 2311.3 1051 2315C1056 2317 1061 2323.9 1066 2325C1072.7 2326.5 1079.3 2327 1086 2327.5C1100.7 2328.7 1115.3 2329 1130 2330C1141.7 2330.8 1153.3 2333 1165 2333C1285 2333 1405 2333 1525 2333C1527.5 2333 1530 2334 1532.5 2334C1535 2334 1537.5 2298 1540 2267.5C1542 2243.1 1544 2193.7 1546 2155C1547.7 2122.7 1549.3 2087.2 1551 2055C1552.3 2029.2 1553.7 1994.5 1555 1980C1556.7 1961.9 1558.3 1956.8 1560 1942.5C1561.7 1928.2 1563.3 1906.8 1565 1892.5C1566.7 1878.2 1568.3 1872.6 1570 1855C1571.7 1837.4 1573.3 1775.2 1575 1765C1576.8 1753.8 1578.7 1745 1580.5 1745C1582 1745 1583.5 1754.3 1585 1765C1586.7 1776.9 1588.3 1862 1590 1862C1591.7 1862 1593.3 1846.7 1595 1830C1596.7 1813.3 1598.3 1750.7 1600 1715C1601.7 1679.3 1603.3 1640.6 1605 1615C1606.7 1589.4 1608.3 1560.9 1610 1552.5C1612.5 1539.9 1615 1530 1617.5 1530C1620 1530 1622.5 1543 1625 1552.5C1626.7 1558.9 1628.3 1564.5 1630 1577.5C1631.7 1590.5 1633.3 1633.9 1635 1665C1636.7 1696.1 1638.3 1743.9 1640 1765C1642.5 1796.7 1645 1832 1647.5 1832C1650 1832 1652.5 1819.3 1655 1802.5C1656.7 1791.3 1658.3 1752.8 1660 1715C1661.3 1684.8 1662.7 1612.9 1664 1590C1665.3 1567.1 1666.7 1542.5 1668 1542.5C1669.5 1542.5 1671 1568.5 1672.5 1590C1673.7 1606.7 1674.8 1659.5 1676 1665C1677.7 1672.8 1679.3 1677.5 1681 1677.5C1684.3 1677.5 1687.7 1675.2 1691 1670C1692.7 1667.4 1694.3 1640.8 1696 1615C1697.3 1594.3 1698.7 1556.8 1700 1515C1700.8 1488.9 1701.7 1428 1702.5 1415C1703.7 1396.8 1704.8 1382.5 1706 1382.5C1707.7 1382.5 1709.3 1390 1711 1402.5C1712 1410 1713 1446.7 1714 1490C1714.7 1518.8 1715.3 1609.2 1716 1640C1717.3 1701.6 1718.7 1722.8 1720 1765C1720.8 1791.4 1721.7 1841.5 1722.5 1845C1724.2 1852 1725.8 1850.2 1727.5 1855C1729.2 1859.8 1730.8 1872.6 1732.5 1880C1734.2 1887.4 1735.8 1900 1737.5 1900C1739.7 1900 1741.8 1883.8 1744 1870C1746 1857.3 1748 1819.9 1750 1810C1752.3 1798.5 1754.7 1787.5 1757 1787.5C1758.8 1787.5 1760.7 1793.3 1762.5 1805C1763.3 1810.3 1764.2 1857 1765 1880C1766.7 1925.9 1768.3 1983.9 1770 2005C1771.7 2026.1 1773.3 2047.5 1775 2047.5C1776.7 2047.5 1778.3 2031.8 1780 2017.5C1781.7 2003.2 1783.3 1956.8 1785 1942.5C1786.7 1928.2 1788.3 1912.5 1790 1912.5C1791.7 1912.5 1793.3 1927.6 1795 1942.5C1796.7 1957.4 1798.3 2011 1800 2030C1802 2052.8 1804 2080 1806 2080C1808.2 2080 1810.3 2061.7 1812.5 2042.5C1814.2 2027.7 1815.8 1967.8 1817.5 1955C1820 1935.8 1822.5 1920 1825 1920C1827.5 1920 1830 1949.2 1832.5 1967.5C1834.2 1979.7 1835.8 2000.7 1837.5 2010C1840 2023.9 1842.5 2031 1845 2040C1848 2050.7 1851 2069 1854 2069C1857.7 2069 1861.3 2056.1 1865 2050C1869.7 2042.2 1874.3 2027.5 1879 2027.5C1881.8 2027.5 1884.7 2040.9 1887.5 2050C1890 2058 1892.5 2071.6 1895 2080C1897 2086.7 1899 2097.5 1901 2097.5C1903.7 2097.5 1906.3 2070 1909 2070C1912.7 2070 1916.3 2070 1920 2070C1921.7 2070 1923.3 2053.1 1925 2042.5C1926.7 2031.9 1928.3 2017.1 1930 2005C1931.7 1992.9 1933.3 1971.7 1935 1970C1938.3 1966.6 1941.7 1968.1 1945 1965C1946.7 1963.4 1948.3 1956.2 1950 1950C1951.7 1943.8 1953.3 1930.4 1955 1925C1957.5 1916.8 1960 1907.5 1962.5 1907.5C1965 1907.5 1967.5 1920.4 1970 1930C1972.5 1939.6 1975 1957.6 1977.5 1970C1980 1982.4 1982.5 1992.9 1985 2005C1986.7 2013.1 1988.3 2020 1990 2030C1991.7 2040 1993.3 2055.7 1995 2067.5C1997.5 2085.2 2000 2117.5 2002.5 2117.5C2005 2117.5 2007.5 2108.4 2010 2100C2012.5 2091.6 2015 2067.3 2017.5 2055C2020.3 2041.1 2023.2 2020 2026 2020C2028.2 2020 2030.3 2030.6 2032.5 2042.5C2033.7 2048.9 2034.8 2062.3 2036 2080C2037 2095.2 2038 2134.1 2039 2155C2040.2 2179.4 2041.3 2203.8 2042.5 2217.5C2044.2 2237.1 2045.8 2253 2047.5 2260C2050 2270.5 2052.5 2276.9 2055 2280C2060.8 2287.1 2066.7 2289.9 2072.5 2292.5C2077.5 2294.8 2082.5 2294.9 2087.5 2297.5C2090 2298.8 2092.5 2301.5 2095 2305C2097.5 2308.5 2100 2317 2102.5 2322.5C2104.2 2326.2 2105.8 2333 2107.5 2333C2148.7 2333 2189.8 2333 2231 2333"/>
<path stroke="#A5A5A5" d="M363 2333C388.7 2333 414.3 2333 440 2333C447.3 2333 454.7 2325.3 462 2322C466.3 2320 470.7 2316.6 475 2316.5C488.3 2316.1 501.7 2316.3 515 2316C525 2315.8 535 2314 545 2313C555 2312 565 2311.7 575 2310C582.3 2308.8 589.7 2305.7 597 2301C599.7 2299.3 602.3 2295.4 605 2292C608.3 2287.8 611.7 2277.5 615 2277.5C620 2277.5 625 2287.5 630 2287.5C633.3 2287.5 636.7 2276.6 640 2270C642.9 2264.2 645.8 2250 648.8 2250C653.3 2250 657.9 2265 662.5 2265C667.5 2265 672.5 2247.5 677.5 2247.5C680.8 2247.5 684.2 2254.4 687.5 2262.5C690 2268.6 692.5 2300.6 695 2305C698.3 2310.9 701.7 2314.3 705 2315C713.3 2316.7 721.7 2316.8 730 2317.5C742.5 2318.5 755 2320 767.5 2320C775.8 2320 784.2 2315.8 792.5 2312.5C798.3 2310.2 804.2 2302.5 810 2302.5C815 2302.5 820 2307.1 825 2310C828.7 2312.1 832.3 2316.6 836 2317.5C847.3 2320.3 858.7 2321.1 870 2322C896.7 2324.1 923.3 2324.8 950 2326C983.3 2327.5 1016.7 2328.9 1050 2330C1083.3 2331.1 1116.7 2333 1150 2333C1280 2333 1410 2333 1540 2333C1543.3 2333 1546.7 2317.9 1550 2317.5C1565 2315.5 1580 2316.9 1595 2315C1600.8 2314.3 1606.7 2285 1612.5 2285C1618.3 2285 1624.2 2286 1630 2287.5C1635 2288.8 1640 2302.5 1645 2302.5C1650.8 2302.5 1656.7 2301.2 1662.5 2300C1668.3 2298.8 1674.2 2293.9 1680 2292.5C1685 2291.3 1690 2291.6 1695 2290C1698.3 2288.9 1701.7 2275 1705 2275C1707.5 2275 1710 2283.3 1712.5 2290C1715 2296.7 1717.5 2317.8 1720 2320C1725.8 2325.1 1731.7 2327.5 1737.5 2327.5C1745 2327.5 1752.5 2315 1760 2315C1765 2315 1770 2330 1775 2330C1777.5 2330 1780 2239.1 1782.5 2220C1785.8 2194.5 1789.2 2170 1792.5 2170C1795.8 2170 1799.2 2202.1 1802.5 2205C1805.8 2207.9 1809.2 2210 1812.5 2210C1815.8 2210 1819.2 2197.5 1822.5 2197.5C1826.7 2197.5 1830.8 2211.3 1835 2212.5C1840 2214 1845 2215 1850 2215C1855 2215 1860 2206.8 1865 2202.5C1869.7 2198.5 1874.3 2190 1879 2190C1882.7 2190 1886.3 2204 1890 2210C1894.3 2217 1898.7 2229 1903 2229C1907 2229 1911 2222.6 1915 2215C1918.3 2208.7 1921.7 2182.5 1925 2168C1926.7 2160.8 1928.3 2150.8 1930 2147.5C1931.7 2144.2 1933.3 2141 1935 2141C1938.7 2141 1942.3 2143 1946 2143C1949 2143 1952 2124.1 1955 2117.5C1957.5 2112 1960 2103.8 1962.5 2103.8C1965 2103.8 1967.5 2110.8 1970 2117.5C1972.5 2124.2 1975 2145.5 1977.5 2155C1980.8 2167.7 1984.2 2169.1 1987.5 2185C1989.2 2192.9 1990.8 2215.9 1992.5 2230C1994.2 2244.1 1995.8 2268.9 1997.5 2270C2000 2271.7 2002.5 2272.5 2005 2272.5C2008.3 2272.5 2011.7 2263.5 2015 2260C2018.7 2256.1 2022.3 2250 2026 2250C2028.2 2250 2030.3 2257.8 2032.5 2265C2034.2 2270.5 2035.8 2283.8 2037.5 2292.5C2039.2 2301.2 2040.8 2312.5 2042.5 2317.5C2045 2325 2047.5 2333 2050 2333C2110.3 2333 2170.7 2333 2231 2333"/>
<path stroke="#000000" d="M363 2333C388.7 2333 414.3 2333 440 2333C449.2 2333 458.3 2320.9 467.5 2320C483.3 2318.4 499.2 2319.4 515 2317.5C520 2316.9 525 2303.4 530 2300C533.3 2297.7 536.7 2295 540 2295C545 2295 550 2305.7 555 2307.5C560 2309.3 565 2311 570 2311C575 2311 580 2309.6 585 2307.5C588.3 2306.1 591.7 2292.5 595 2292.5C598.3 2292.5 601.7 2305 605 2305C607.9 2305 610.8 2300 613.8 2300C618.3 2300 622.9 2317.5 627.5 2317.5C633.3 2317.5 639.2 2297.5 645 2297.5C648.3 2297.5 651.7 2306.3 655 2310C658.3 2313.7 661.7 2320 665 2320C670 2320 675 2312.5 680 2312.5C685 2312.5 690 2312.5 695 2312.5C700 2312.5 705 2307.7 710 2305C714.2 2302.7 718.3 2297.5 722.5 2297.5C729.2 2297.5 735.8 2304.2 742.5 2307.5C749.2 2310.8 755.8 2317.5 762.5 2317.5C768.3 2317.5 774.2 2312.5 780 2312.5C785 2312.5 790 2317.5 795 2317.5C802.5 2317.5 810 2317.5 817.5 2317.5C823.7 2317.5 829.8 2317.5 836 2317.5C842.7 2317.5 849.3 2315 856 2315C869.3 2315 882.7 2317.3 896 2320C904 2321.6 912 2329.4 920 2330C946.7 2332.2 973.3 2333 1000 2333C1180 2333 1360 2333 1540 2333C1541.7 2333 1543.3 2313.8 1545 2310C1546.7 2306.2 1548.3 2303.9 1550 2302.5C1555 2298.4 1560 2297.2 1565 2295C1569.2 2293.2 1573.3 2290 1577.5 2290C1583.3 2290 1589.2 2292.5 1595 2292.5C1600.8 2292.5 1606.7 2272.5 1612.5 2272.5C1618.3 2272.5 1624.2 2275.6 1630 2280C1633.3 2282.5 1636.7 2296.6 1640 2300C1645 2305.2 1650 2310 1655 2310C1659.2 2310 1663.3 2307.4 1667.5 2305C1672.5 2302.1 1677.5 2287.5 1682.5 2287.5C1687.5 2287.5 1692.5 2292.5 1697.5 2292.5C1700 2292.5 1702.5 2292.5 1705 2292.5C1708.3 2292.5 1711.7 2320.3 1715 2325C1718.3 2329.7 1721.7 2334 1725 2334C1730 2334 1735 2326.2 1740 2320C1745 2313.8 1750 2297 1755 2292.5C1759.2 2288.8 1763.3 2289.8 1767.5 2285C1770 2282.1 1772.5 2253 1775 2242.5C1777.5 2232 1780 2219 1782.5 2217.5C1785 2216 1787.5 2215 1790 2215C1792.5 2215 1795 2233.8 1797.5 2242.5C1800 2251.2 1802.5 2267.5 1805 2267.5C1807.5 2267.5 1810 2241.6 1812.5 2230C1815 2218.4 1817.5 2200.9 1820 2197.5C1822 2194.8 1824 2192.5 1826 2192.5C1829 2192.5 1832 2207.5 1835 2212.5C1839 2219.1 1843 2225.6 1847 2228C1850.3 2230 1853.7 2232 1857 2232C1860 2232 1863 2231 1866 2230C1869.8 2228.7 1873.7 2221 1877.5 2221C1880.8 2221 1884.2 2236.3 1887.5 2241C1890.8 2245.7 1894.2 2252 1897.5 2252C1900.8 2252 1904.2 2230 1907.5 2230C1911.7 2230 1915.8 2241 1920 2241C1922.8 2241 1925.7 2229.3 1928.5 2224C1930.7 2219.9 1932.8 2215.1 1935 2212.5C1938.3 2208.6 1941.7 2207.4 1945 2204C1948.7 2200.3 1952.3 2190 1956 2190C1959.8 2190 1963.7 2202.6 1967.5 2205C1971.7 2207.6 1975.8 2210 1980 2210C1984.2 2210 1988.3 2207.2 1992.5 2205C1996.7 2202.8 2000.8 2200.4 2005 2195C2007.5 2191.8 2010 2183.3 2012.5 2175C2015 2166.7 2017.5 2151.2 2020 2142.5C2022 2135.6 2024 2125 2026 2125C2028.2 2125 2030.3 2133.7 2032.5 2142.5C2034.2 2149.2 2035.8 2165.7 2037.5 2180C2039.2 2194.3 2040.8 2214.2 2042.5 2230C2044.2 2245.8 2045.8 2269.3 2047.5 2275C2050 2283.5 2052.5 2287.2 2055 2290C2060.8 2296.6 2066.7 2300.9 2072.5 2302.5C2077.5 2303.8 2082.5 2303.6 2087.5 2305C2090 2305.7 2092.5 2307.5 2095 2310C2098.3 2313.4 2101.7 2333 2105 2333C2147 2333 2189 2333 2231 2333"/>
<path stroke="#7030A0" d="M363 2333C388.7 2332.7 414.3 2332.9 440 2332C442.5 2331.9 445 2328.5 447.5 2327.5C456.7 2323.8 465.8 2320.9 475 2320C490 2318.5 505 2319.2 520 2317.5C526.7 2316.8 533.3 2307.5 540 2307.5C546.7 2307.5 553.3 2318.6 560 2320C566.7 2321.4 573.3 2321.7 580 2322.5C586.7 2323.3 593.3 2325 600 2325C605 2325 610 2322 615 2322C620 2322 625 2326.5 630 2327C653.3 2329.1 676.7 2329.6 700 2330C733.3 2330.6 766.7 2330.7 800 2331C833.3 2331.3 866.7 2332 900 2332C933.3 2332 966.7 2332 1000 2332C1016.7 2332 1033.3 2333 1050 2333C1210 2333 1370 2333 1530 2333C1531.7 2333 1533.3 2334 1535 2334C1538.3 2334 1541.7 2292.9 1545 2280C1548.3 2267.1 1551.7 2254.9 1555 2250C1557.5 2246.3 1560 2245.8 1562.5 2242.5C1565 2239.2 1567.5 2234 1570 2227.5C1572.5 2221 1575 2201.5 1577.5 2200C1580 2198.5 1582.5 2199 1585 2197.5C1587.5 2196 1590 2188 1592.5 2180C1595 2172 1597.5 2155.8 1600 2142.5C1602.5 2129.2 1605 2100 1607.5 2100C1610 2100 1612.5 2120 1615 2130C1616.7 2136.7 1618.3 2148 1620 2150C1622.5 2153 1625 2152.3 1627.5 2155C1630.8 2158.7 1634.2 2183.8 1637.5 2192.5C1640.8 2201.2 1644.2 2212.5 1647.5 2212.5C1650.8 2212.5 1654.2 2200.3 1657.5 2190C1660 2182.3 1662.5 2171.3 1665 2155C1666.7 2144.1 1668.3 2121.7 1670 2105C1671.7 2088.3 1673.3 2067.5 1675 2055C1676.7 2042.5 1678.3 2028.7 1680 2025C1683.3 2017.6 1686.7 2019.2 1690 2012.5C1691.7 2009.1 1693.3 2002.6 1695 1992.5C1696.7 1982.4 1698.3 1955.9 1700 1930C1701.2 1910.6 1702.5 1865.4 1703.8 1855C1704.5 1848.8 1705.2 1842.5 1706 1842.5C1707.7 1842.5 1709.3 1858.5 1711 1880C1712 1892.9 1713 1939.5 1714 1980C1714.7 2007 1715.3 2053.7 1716 2080C1717.3 2132.6 1718.7 2184.4 1720 2205C1721.7 2230.7 1723.3 2240.2 1725 2255C1726.7 2269.8 1728.3 2289.3 1730 2295C1733.3 2306.4 1736.7 2315 1740 2315C1746.7 2315 1753.3 2312.5 1760 2312.5C1763.3 2312.5 1766.7 2325 1770 2325C1773.3 2325 1776.7 2322.4 1780 2320C1783.3 2317.6 1786.7 2307.5 1790 2307.5C1796.7 2307.5 1803.3 2312.5 1810 2312.5C1815 2312.5 1820 2307.5 1825 2307.5C1833.3 2307.5 1841.7 2310 1850 2310C1860 2310 1870 2301 1880 2301C1886.7 2301 1893.3 2305 1900 2305C1904.2 2305 1908.3 2301 1912.5 2301C1915.8 2301 1919.2 2306 1922.5 2306C1928.3 2306 1934.2 2305.3 1940 2305C1946.7 2304.6 1953.3 2304 1960 2304C1965 2304 1970 2306.1 1975 2307.5C1980 2308.9 1985 2310.5 1990 2312.5C1994.2 2314.2 1998.3 2319 2002.5 2319C2010 2319 2017.5 2317.5 2025 2317.5C2030.8 2317.5 2036.7 2321.9 2042.5 2324C2048.3 2326.1 2054.2 2328.8 2060 2330C2066.7 2331.4 2073.3 2333 2080 2333C2130.3 2333 2180.7 2333 2231 2333"/>
<path stroke="#70AD47" d="M363 2334C442 2333.3 521 2333.2 600 2332C633.3 2331.5 666.7 2328 700 2328C750 2328 800 2328 850 2328C883.3 2328 916.7 2325 950 2325C966.7 2325 983.3 2327.2 1000 2328C1033.3 2329.6 1066.7 2331.7 1100 2332C1246.7 2333.4 1393.3 2334 1540 2334C1541.7 2334 1543.3 2334 1545 2334C1549.2 2334 1553.3 2229.7 1557.5 2205C1560.8 2185.2 1564.2 2173.3 1567.5 2162.5C1570 2154.4 1572.5 2151.5 1575 2142.5C1577 2135.3 1579 2110 1581 2110C1583.2 2110 1585.3 2155.8 1587.5 2167.5C1589.2 2176.5 1590.8 2187.5 1592.5 2187.5C1595.8 2187.5 1599.2 2162.5 1602.5 2150C1605.8 2137.5 1609.2 2117.6 1612.5 2112.5C1615 2108.7 1617.5 2105 1620 2105C1623.3 2105 1626.7 2119.5 1630 2130C1633.3 2140.5 1636.7 2164.2 1640 2172.5C1643.3 2180.8 1646.7 2190 1650 2190C1653.3 2190 1656.7 2180.7 1660 2170C1662.5 2162 1665 2117.5 1667.5 2117.5C1669.2 2117.5 1670.8 2155.7 1672.5 2167.5C1675 2185.3 1677.5 2207.5 1680 2207.5C1683.3 2207.5 1686.7 2204.1 1690 2200C1693.3 2195.9 1696.7 2177.9 1700 2167.5C1702.5 2159.7 1705 2145 1707.5 2145C1710.8 2145 1714.2 2145 1717.5 2145C1720.8 2145 1724.2 2122.5 1727.5 2122.5C1730.8 2122.5 1734.2 2122.5 1737.5 2122.5C1740 2122.5 1742.5 2104.5 1745 2100C1748.3 2094 1751.7 2087.5 1755 2087.5C1757.5 2087.5 1760 2095.1 1762.5 2105C1765 2114.9 1767.5 2191.7 1770 2205C1772.5 2218.3 1775 2221.2 1777.5 2230C1780.8 2241.7 1784.2 2255 1787.5 2267.5C1790.8 2280 1794.2 2300.8 1797.5 2305C1800.8 2309.2 1804.2 2312.5 1807.5 2312.5C1810 2312.5 1812.5 2292.8 1815 2287.5C1818.3 2280.5 1821.7 2272.5 1825 2272.5C1828.3 2272.5 1831.7 2284.8 1835 2292.5C1838.3 2300.2 1841.7 2318.2 1845 2320C1855 2325.3 1865 2327.5 1875 2327.5C1902 2327.5 1929 2326 1956 2326C1970.7 2326 1985.3 2327.3 2000 2328C2033.3 2329.6 2066.7 2332.5 2100 2333C2143.7 2333.6 2187.3 2333.7 2231 2334"/>
<path stroke="#FFD966" d="M363 2334C418.7 2331.8 474.3 2331.3 530 2327.5C546.7 2326.3 563.3 2322.4 580 2320C591.7 2318.3 603.3 2315 615 2315C620 2315 625 2323.4 630 2323.8C653.3 2325.5 676.7 2325.7 700 2326C745.3 2326.6 790.7 2327 836 2327C872.7 2327 909.3 2324.2 946 2320C953 2319.2 960 2315 967 2315C973.3 2315 979.7 2321.4 986 2322.5C1011 2327 1036 2328.8 1061 2330C1095.7 2331.6 1130.3 2332.8 1165 2333C1288.3 2333.7 1411.7 2334 1535 2334C1536.7 2334 1538.3 2334 1540 2334C1543.3 2334 1546.7 2272.9 1550 2255C1554.2 2232.6 1558.3 2217.7 1562.5 2205C1565.8 2194.8 1569.2 2188.6 1572.5 2180C1575.3 2172.7 1578.2 2157.5 1581 2157.5C1583.2 2157.5 1585.3 2184.3 1587.5 2192.5C1589.2 2198.8 1590.8 2207.5 1592.5 2207.5C1595 2207.5 1597.5 2191.8 1600 2180C1602.5 2168.2 1605 2148.5 1607.5 2130C1610 2111.5 1612.5 2073.2 1615 2067.5C1617.5 2061.8 1620 2057.5 1622.5 2057.5C1625 2057.5 1627.5 2067 1630 2075C1633.3 2085.7 1636.7 2120 1640 2130C1642.5 2137.5 1645 2146 1647.5 2146C1650.8 2146 1654.2 2131.1 1657.5 2117.5C1660 2107.3 1662.5 2079.8 1665 2067.5C1666.7 2059.3 1668.3 2047.5 1670 2047.5C1671.7 2047.5 1673.3 2083.3 1675 2105C1676.7 2126.7 1678.3 2171.3 1680 2180C1682.5 2193.1 1685 2202.5 1687.5 2202.5C1690.8 2202.5 1694.2 2189.4 1697.5 2180C1700 2172.9 1702.5 2152.5 1705 2152.5C1708.3 2152.5 1711.7 2157.5 1715 2157.5C1719.2 2157.5 1723.3 2140 1727.5 2140C1731.3 2140 1735.2 2154 1739 2154C1742.7 2154 1746.3 2140.2 1750 2135C1752 2132.1 1754 2127.5 1756 2127.5C1758.2 2127.5 1760.3 2141 1762.5 2155C1764.2 2165.8 1765.8 2201.9 1767.5 2217.5C1769.2 2233.1 1770.8 2251.7 1772.5 2255C1776.7 2263.3 1780.8 2262.1 1785 2267.5C1788.3 2271.8 1791.7 2278.1 1795 2285C1798.3 2291.9 1801.7 2310 1805 2310C1808.3 2310 1811.7 2303.3 1815 2300C1818.3 2296.7 1821.7 2290 1825 2290C1828.3 2290 1831.7 2300 1835 2305C1838.3 2310 1841.7 2319.1 1845 2320C1855 2322.8 1865 2324 1875 2324C1891.7 2324 1908.3 2323.5 1925 2322.5C1932.5 2322.1 1940 2318.8 1947.5 2317.5C1953.3 2316.5 1959.2 2315 1965 2315C1971.7 2315 1978.3 2317.6 1985 2320C1989.2 2321.5 1993.3 2326.9 1997.5 2327.5C2010 2329.2 2022.5 2329.3 2035 2330C2056.7 2331.2 2078.3 2332.7 2100 2333C2143.7 2333.6 2187.3 2333.7 2231 2334"/>
<path stroke="#FF0000" d="M363 2333C383.7 2332.8 404.3 2332.9 425 2332.5C428.3 2332.4 431.7 2326.7 435 2325C441.7 2321.5 448.3 2321.9 455 2317.5C458.3 2315.3 461.7 2304.2 465 2300C468.3 2295.8 471.7 2290.9 475 2290C480.8 2288.4 486.7 2288.6 492.5 2287.5C498.3 2286.4 504.2 2285.5 510 2282.5C512.5 2281.2 515 2278 517.5 2272.5C520 2267 522.5 2241.2 525 2225C527.5 2208.8 530 2182.4 532.5 2175C535.3 2166.6 538.2 2159 541 2159C544 2159 547 2175.2 550 2182.5C553.3 2190.6 556.7 2198 560 2205C562.5 2210.3 565 2220 567.5 2220C570.8 2220 574.2 2205.3 577.5 2200C580 2196 582.5 2194.9 585 2190C587.5 2185.1 590 2162.5 592.5 2162.5C596.7 2162.5 600.8 2166 605 2166C608.3 2166 611.7 2107.5 615 2107.5C617.5 2107.5 620 2145.3 622.5 2162.5C625 2179.7 627.5 2211 630 2211C632.5 2211 635 2205.3 637.5 2200C640.3 2194 643.2 2167.5 646 2167.5C649 2167.5 652 2192.8 655 2205C657.5 2215.2 660 2235 662.5 2235C665.8 2235 669.2 2219.5 672.5 2212.5C676.3 2204.5 680.2 2190 684 2190C686.8 2190 689.7 2202 692.5 2212.5C695 2221.8 697.5 2257.5 700 2257.5C704.2 2257.5 708.3 2247.4 712.5 2240C716.7 2232.6 720.8 2210 725 2210C730.8 2210 736.7 2210 742.5 2210C745.8 2210 749.2 2216 752.5 2220C755.8 2224 759.2 2235 762.5 2235C766.7 2235 770.8 2229.1 775 2225C778.3 2221.7 781.7 2219.3 785 2212.5C788.3 2205.7 791.7 2169.8 795 2157.5C800 2139.1 805 2117.5 810 2117.5C814.2 2117.5 818.3 2119.4 822.5 2122.5C825.8 2125 829.2 2154.4 832.5 2162.5C835.3 2169.4 838.2 2176.1 841 2177.5C847.7 2180.7 854.3 2179.3 861 2182.5C864.3 2184.1 867.7 2202.5 871 2202.5C876 2202.5 881 2196.6 886 2192.5C888.5 2190.5 891 2188.9 893.5 2185C896.3 2180.6 899.2 2152.5 902 2152.5C905 2152.5 908 2181.2 911 2187.5C915.2 2196.3 919.3 2205 923.5 2205C928.5 2205 933.5 2200.9 938.5 2195C941.8 2191 945.2 2157.5 948.5 2157.5C951.8 2157.5 955.2 2160 958.5 2160C961.8 2160 965.2 2127.5 968.5 2127.5C971 2127.5 973.5 2154 976 2162.5C978.5 2171 981 2182.5 983.5 2182.5C987.7 2182.5 991.8 2173.6 996 2167.5C999.3 2162.6 1002.7 2148.8 1006 2148.8C1010.2 2148.8 1014.3 2160 1018.5 2160C1022.7 2160 1026.8 2137.1 1031 2132.5C1034.3 2128.8 1037.7 2127.7 1041 2125C1043.9 2122.7 1046.8 2117.5 1049.8 2117.5C1052.7 2117.5 1055.6 2122.8 1058.5 2130C1061 2136.1 1063.5 2169.7 1066 2187.5C1068.5 2205.3 1071 2229.4 1073.5 2237.5C1077.7 2250.9 1081.8 2255.1 1086 2262.5C1090.2 2269.9 1094.3 2278.3 1098.5 2282.5C1106.8 2291 1115.2 2294.6 1123.5 2300C1131.8 2305.4 1140.2 2308.1 1148.5 2315C1152.7 2318.5 1156.8 2326.3 1161 2330C1162.3 2331.2 1163.7 2333 1165 2333C1287.5 2333 1410 2333 1532.5 2333C1540 2333 1547.5 2327.3 1555 2325C1564.2 2322.2 1573.3 2320 1582.5 2317.5C1591.7 2315 1600.8 2310 1610 2310C1616.7 2310 1623.3 2311.7 1630 2312.5C1636.7 2313.3 1643.3 2315 1650 2315C1655 2315 1660 2300 1665 2300C1669.2 2300 1673.3 2302.5 1677.5 2302.5C1682.5 2302.5 1687.5 2301.1 1692.5 2300C1697.5 2298.9 1702.5 2295 1707.5 2295C1711.7 2295 1715.8 2300 1720 2300C1726.7 2300 1733.3 2300 1740 2300C1744.2 2300 1748.3 2295.1 1752.5 2292.5C1755 2290.9 1757.5 2287.5 1760 2287.5C1762.5 2287.5 1765 2300.8 1767.5 2305C1770 2309.2 1772.5 2315 1775 2315C1779.2 2315 1783.3 2315 1787.5 2315C1791.7 2315 1795.8 2322.5 1800 2322.5C1804.2 2322.5 1808.3 2317.8 1812.5 2315C1815.8 2312.8 1819.2 2307.5 1822.5 2307.5C1826.7 2307.5 1830.8 2310 1835 2310C1843.3 2310 1851.7 2310 1860 2310C1866.7 2310 1873.3 2307.5 1880 2307.5C1886.7 2307.5 1893.3 2310 1900 2310C1906.7 2310 1913.3 2308.1 1920 2305C1923.3 2303.4 1926.7 2292.2 1930 2290C1934.2 2287.3 1938.3 2287.2 1942.5 2285C1945.8 2283.2 1949.2 2279.3 1952.5 2277.5C1956.3 2275.4 1960.2 2272.5 1964 2272.5C1967.7 2272.5 1971.3 2275.6 1975 2277.5C1979.2 2279.6 1983.3 2281.2 1987.5 2285C1990 2287.3 1992.5 2296.1 1995 2297.5C1997.5 2298.9 2000 2300 2002.5 2300C2006.7 2300 2010.8 2293.3 2015 2290C2019.2 2286.7 2023.3 2280 2027.5 2280C2030 2280 2032.5 2289 2035 2295C2037.5 2301 2040 2314.4 2042.5 2317.5C2045.8 2321.6 2049.2 2324.5 2052.5 2325C2063.3 2326.8 2074.2 2326.2 2085 2327.5C2093.3 2328.5 2101.7 2333 2110 2333C2150.3 2333 2190.7 2333 2231 2333"/>
</g>
<path d="M363 2333V1311H2231V2333" stroke="#000" stroke-width="4.5" fill="none" stroke-linejoin="miter"/>
<text class="b" x="377.3" y="72.5" font-size="48" text-anchor="middle">-6</text>
<text class="b" x="363.1" y="2411" font-size="47" text-anchor="middle">-6</text>
<text class="b" x="641.3" y="72.5" font-size="48" text-anchor="middle">-4</text>
<text class="b" x="630.1" y="2411" font-size="47" text-anchor="middle">-4</text>
<text class="b" x="905.3" y="72.5" font-size="48" text-anchor="middle">-2</text>
<text class="b" x="897.1" y="2411" font-size="47" text-anchor="middle">-2</text>
<text class="b" x="1169.3" y="72.5" font-size="48" text-anchor="middle">0</text>
<text class="b" x="1164.1" y="2411" font-size="47" text-anchor="middle">0</text>
<text class="b" x="1433.3" y="72.5" font-size="48" text-anchor="middle">2</text>
<text class="b" x="1431.1" y="2411" font-size="47" text-anchor="middle">2</text>
<text class="b" x="1697.3" y="72.5" font-size="48" text-anchor="middle">4</text>
<text class="b" x="1698.1" y="2411" font-size="47" text-anchor="middle">4</text>
<text class="b" x="1961.3" y="72.5" font-size="48" text-anchor="middle">6</text>
<text class="b" x="1965.1" y="2411" font-size="47" text-anchor="middle">6</text>
<text class="b" x="2225.3" y="72.5" font-size="48" text-anchor="middle">8</text>
<text class="b" x="2232.1" y="2411" font-size="47" text-anchor="middle">8</text>
<text class="b" x="331.5" y="1233" font-size="48" text-anchor="end">0</text>
<text class="b" x="321.5" y="2349.5" font-size="47" text-anchor="end">0</text>
<text class="b" x="331.5" y="1005" font-size="48" text-anchor="end">0.5</text>
<text class="b" x="321.5" y="2136.2" font-size="47" text-anchor="end">0.5</text>
<text class="b" x="331.5" y="777" font-size="48" text-anchor="end">1</text>
<text class="b" x="321.5" y="1923" font-size="47" text-anchor="end">1</text>
<text class="b" x="331.5" y="549" font-size="48" text-anchor="end">1.5</text>
<text class="b" x="321.5" y="1709.8" font-size="47" text-anchor="end">1.5</text>
<text class="b" x="331.5" y="321" font-size="48" text-anchor="end">2</text>
<text class="b" x="321.5" y="1496.5" font-size="47" text-anchor="end">2</text>
<text transform="translate(44.1 143.0) scale(0.7920 1)" font-size="95.00">(</text>
<text transform="translate(74.7 143.0) scale(0.7551 1)" font-size="95.00">a</text>
<text transform="translate(126.1 143.0) scale(0.8560 1)" font-size="95.00">)</text>
<text transform="translate(43.8 1673.5) scale(0.7880 1)" font-size="95.00">(</text>
<text transform="translate(70.9 1673.5) scale(1.0605 1)" font-size="95.00">b</text>
<text transform="translate(132.0 1673.5) scale(0.8080 1)" font-size="95.00">)</text>
<text class="b" transform="translate(195.4 1432.2) rotate(-90) scale(0.8885 1)" font-size="76.16">PDOS</text>
<text class="b" transform="translate(195.4 1228.4) rotate(-90) scale(1.0045 1)" font-size="76.16">(states/eV)</text>
<text class="b" transform="translate(1127.2 2503.7) scale(0.9068 1)" font-size="75.58">Energy</text>
<text class="b" transform="translate(1373.5 2503.7) scale(0.9830 1)" font-size="75.58">(eV)</text>
<text class="b" transform="translate(1820.4 582.4) scale(0.7736 1)" font-size="48.69">&#916;CFS</text>
<text class="b" transform="translate(1934.7 582.4) scale(0.9708 1)" font-size="48.69">=</text>
<text class="b" transform="translate(1972.9 582.4) scale(0.9609 1)" font-size="48.69">2.2</text>
<text class="b" transform="translate(2048.4 582.4) scale(0.9474 1)" font-size="48.69">eV</text>
<text class="b" transform="translate(1836.1 1752.3) scale(0.7851 1)" font-size="43.31">&#916;CFS</text>
<text class="b" transform="translate(1938.6 1752.3) scale(0.9136 1)" font-size="43.31">=</text>
<text class="b" transform="translate(1972.4 1752.3) scale(0.9860 1)" font-size="43.31">1.4</text>
<text class="b" transform="translate(2042.0 1752.3) scale(0.9460 1)" font-size="43.31">eV</text>
<text class="b" transform="translate(1253.9 1110.6) scale(1.0068 1)" font-size="47.38">2.67</text>
<text class="b" transform="translate(1356.2 1110.6) scale(0.9709 1)" font-size="47.38">eV</text>
<text class="b" transform="translate(1227.8 2230.5) scale(0.9148 1)" font-size="47.38">2.69</text>
<text class="b" transform="translate(1320.0 2230.5) scale(0.9055 1)" font-size="47.38">eV</text>
<path d="M1202 1133L1458 1134" stroke="#000" stroke-width="4.5"/>
<path d="M1187 1133L1208 1123L1208 1143Z" fill="#000"/>
<path d="M1473 1134L1452 1124L1452 1144Z" fill="#000"/>
<path d="M1179 2249L1437 2252" stroke="#000" stroke-width="4.5"/>
<path d="M1164 2249L1185 2239L1185 2259Z" fill="#000"/>
<path d="M1452 2252L1431 2242L1431 2262Z" fill="#000"/>
</svg>
</body></html>
